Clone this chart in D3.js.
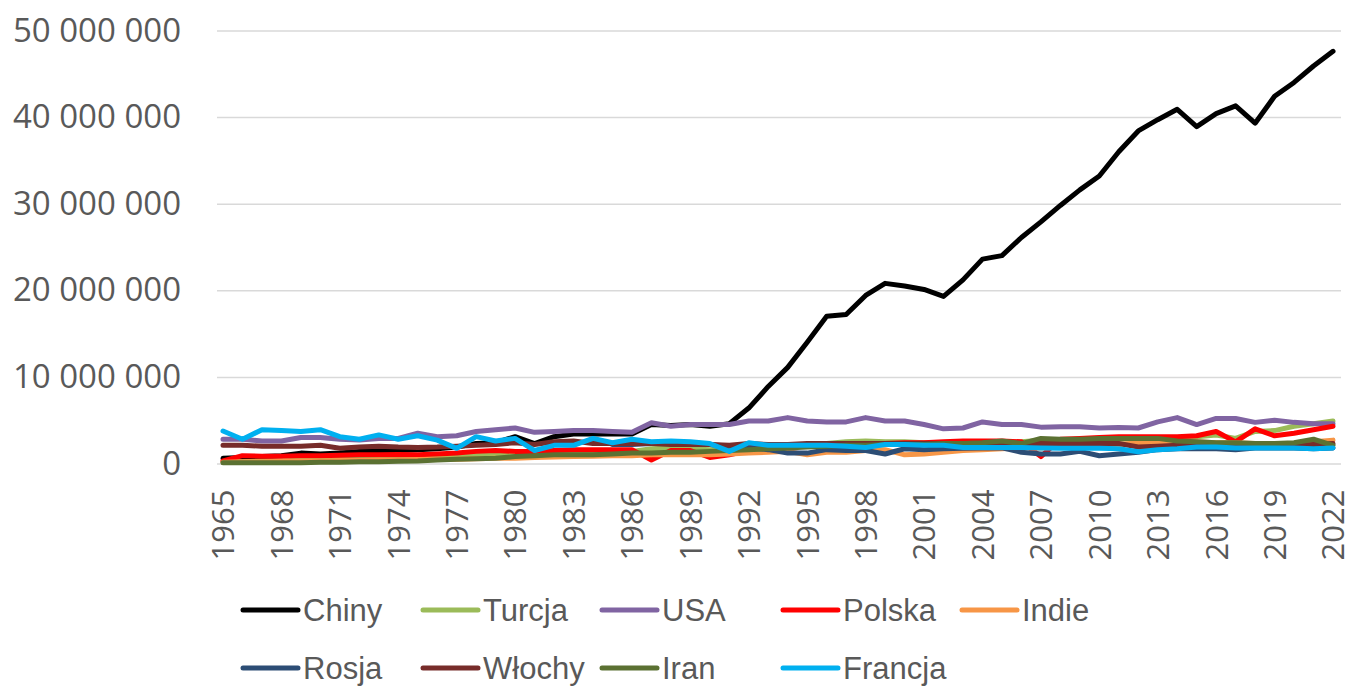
<!DOCTYPE html>
<html>
<head>
<meta charset="utf-8">
<script src="https://cdn.jsdelivr.net/npm/d3@7"></script>
<style>
  body { margin: 0; background: #fff; }
  svg { display: block; }
</style>
</head>
<body>
<svg width="1349" height="689"></svg>
<script>
// years on the category axis
const years = [1965, 1966, 1967, 1968, 1969, 1970, 1971, 1972, 1973, 1974,
  1975, 1976, 1977, 1978, 1979, 1980, 1981, 1982, 1983, 1984,
  1985, 1986, 1987, 1988, 1989, 1990, 1991, 1992, 1993, 1994,
  1995, 1996, 1997, 1998, 1999, 2000, 2001, 2002, 2003, 2004,
  2005, 2006, 2007, 2008, 2009, 2010, 2011, 2012, 2013, 2014,
  2015, 2016, 2017, 2018, 2019, 2020, 2021, 2022];

// values in millions
const chiny = [0.6, 0.7, 0.8, 0.9, 1.2, 1.1, 1.2, 1.4, 1.5, 1.5,
  1.6, 1.7, 1.9, 2.3, 2.4, 3.1, 2.3, 3.1, 3.4, 3.4,
  3.4, 3.4, 4.5, 4.4, 4.5, 4.3, 4.6, 6.4, 8.9, 11.1,
  14.0, 17.0, 17.2, 19.4, 20.8, 20.5, 20.1, 19.3, 21.2, 23.6,
  24.0, 26.1, 27.9, 29.8, 31.6, 33.2, 36.0, 38.4, 39.7, 40.9,
  38.9, 40.4, 41.3, 39.3, 42.4, 44.0, 45.9, 47.6];
const turcja = [0.2, 0.2, 0.3, 0.3, 0.4, 0.4, 0.5, 0.5, 0.6, 0.6,
  0.7, 0.8, 0.9, 1.0, 1.0, 1.1, 1.2, 1.3, 1.5, 1.5,
  1.5, 1.4, 1.7, 1.8, 1.7, 1.6, 1.7, 2.0, 1.9, 1.9,
  2.1, 2.3, 2.5, 2.6, 2.5, 2.5, 2.4, 2.4, 2.4, 2.4,
  2.4, 2.5, 2.7, 2.7, 2.8, 2.8, 2.8, 2.9, 2.9, 2.8,
  3.1, 3.3, 2.9, 3.7, 3.8, 4.3, 4.6, 4.9];
const usa = [2.8, 2.8, 2.6, 2.6, 3.0, 3.0, 2.8, 2.7, 2.9, 2.9,
  3.5, 3.1, 3.2, 3.7, 3.9, 4.1, 3.6, 3.7, 3.8, 3.8,
  3.7, 3.6, 4.7, 4.3, 4.5, 4.5, 4.5, 4.9, 4.9, 5.3,
  4.9, 4.8, 4.8, 5.3, 4.9, 4.9, 4.5, 4.0, 4.1, 4.8,
  4.5, 4.5, 4.2, 4.25, 4.25, 4.1, 4.15, 4.1, 4.8, 5.3,
  4.5, 5.2, 5.2, 4.75, 5.0, 4.75, 4.6, 4.6];
const polska = [0.3, 0.9, 0.85, 0.85, 0.9, 0.9, 0.95, 1.0, 1.0, 1.05,
  1.0, 1.1, 1.2, 1.4, 1.5, 1.4, 1.4, 1.5, 1.6, 1.6,
  1.6, 1.6, 0.4, 1.5, 1.5, 0.7, 1.0, 1.5, 1.8, 1.9,
  2.0, 2.1, 2.2, 2.3, 2.3, 2.4, 2.4, 2.5, 2.6, 2.6,
  2.6, 2.5, 0.8, 2.8, 2.9, 3.0, 3.1, 3.1, 3.1, 3.1,
  3.2, 3.7, 2.5, 4.0, 3.2, 3.5, 3.9, 4.3];
const indie = [0.15, 0.2, 0.2, 0.25, 0.3, 0.3, 0.35, 0.35, 0.4, 0.4,
  0.45, 0.5, 0.5, 0.55, 0.6, 0.6, 0.7, 0.75, 0.8, 0.85,
  0.9, 0.9, 1.0, 1.0, 1.0, 1.0, 1.1, 1.2, 1.3, 1.4,
  1.0, 1.3, 1.3, 1.5, 1.6, 1.0, 1.1, 1.3, 1.5, 1.6,
  1.7, 1.8, 1.8, 1.9, 2.0, 2.1, 2.2, 2.4, 2.4, 2.5,
  2.5, 2.4, 2.4, 2.3, 2.3, 2.2, 2.5, 2.7];
const rosja = [null, null, null, null, null, null, null, null, null, null,
  null, null, null, null, null, null, null, null, null, null,
  2.2, 2.2, 2.3, 2.3, 2.2, 2.2, 2.0, 1.8, 1.6, 1.2,
  1.2, 1.6, 1.5, 1.5, 1.1, 1.7, 1.6, 1.7, 1.75, 1.8,
  1.8, 1.3, 1.1, 1.1, 1.4, 0.9, 1.1, 1.3, 1.6, 1.7,
  1.7, 1.7, 1.6, 1.8, 1.8, 1.8, 1.7, 1.8];
const wlochy = [2.1, 2.1, 2.0, 2.0, 2.0, 2.1, 1.75, 1.9, 2.0, 1.9,
  1.85, 1.9, 2.0, 2.1, 2.2, 2.4, 2.2, 2.5, 2.6, 2.3,
  2.3, 2.3, 2.3, 2.2, 2.2, 2.2, 2.1, 2.3, 2.2, 2.2,
  2.3, 2.3, 2.3, 2.3, 2.3, 2.3, 2.3, 2.3, 2.3, 2.3,
  2.3, 2.3, 2.3, 2.3, 2.3, 2.3, 2.3, 1.9, 2.0, 2.1,
  2.2, 2.2, 2.1, 2.2, 2.2, 2.1, 2.2, 2.3];
const iran = [0.1, 0.1, 0.1, 0.1, 0.1, 0.15, 0.15, 0.2, 0.2, 0.25,
  0.3, 0.4, 0.5, 0.55, 0.6, 0.8, 0.9, 1.0, 1.0, 1.0,
  1.1, 1.2, 1.2, 1.3, 1.3, 1.4, 1.5, 1.6, 1.7, 1.8,
  1.9, 2.0, 2.1, 2.1, 2.2, 2.2, 2.2, 2.3, 2.3, 2.4,
  2.6, 2.3, 2.9, 2.8, 2.8, 2.9, 2.9, 2.9, 2.9, 2.6,
  2.5, 2.4, 2.4, 2.3, 2.3, 2.4, 2.8, 2.1];
const francja = [3.75, 2.8, 3.9, 3.8, 3.7, 3.9, 3.1, 2.8, 3.3, 2.8,
  3.2, 2.7, 1.75, 3.1, 2.6, 2.9, 1.5, 2.1, 2.1, 2.9,
  2.4, 2.8, 2.5, 2.6, 2.5, 2.3, 1.4, 2.4, 2.1, 2.1,
  2.1, 2.1, 2.0, 1.85, 2.2, 2.2, 2.1, 2.1, 1.85, 1.85,
  1.85, 1.85, 1.8, 1.75, 1.75, 1.75, 1.7, 1.35, 1.6, 1.7,
  1.9, 1.9, 1.8, 1.8, 1.8, 1.8, 1.7, 1.8];

const names = ['Chiny', 'Turcja', 'USA', 'Polska', 'Indie', 'Rosja', 'Włochy', 'Iran', 'Francja'];
const colors = ['#000000', '#9BBB59', '#8064A2', '#FF0000', '#F79646', '#2C4D75', '#772C2A', '#5B7132', '#00B0F0'];
const yTicks = [0, 10, 20, 30, 40, 50];

let series = [chiny, turcja, usa, polska, indie, rosja, wlochy, iran, francja]
  .map((vals, i) => ({ name: names[i], color: colors[i], values: vals }));

const svg = d3.select('svg');
const x = d3.scalePoint().domain(years).range([223, 1333]);
const y = d3.scaleLinear().domain([0, 50]).range([463.5, 30.5]);

const pl = d3.formatLocale({ decimal: ',', thousands: '\u00a0', grouping: [3], currency: ['', ''] });
const fmt = pl.format(',');

// gridlines + y labels
const yAxis = svg.append('g')
  .attr('transform', 'translate(217,0)')
  .call(d3.axisLeft(y).tickValues(yTicks).tickSize(-1124).tickPadding(36)
    .tickFormat((d) => fmt(d * 1e6)));
yAxis.select('.domain').remove();
yAxis.selectAll('line').attr('stroke', '#D9D9D9').attr('stroke-width', 1.5);
yAxis.selectAll('text')
  .attr('fill', '#595959')
  .style('font-family', '"Open Sans", sans-serif')
  .style('font-size', '33px');

// x labels, every 3rd year, rotated
const xAxis = svg.append('g')
  .attr('transform', 'translate(0,463.5)')
  .call(d3.axisBottom(x).tickValues(years.filter((d, i) => i % 3 === 0)).tickSize(0).tickPadding(0));
xAxis.select('.domain').remove();
xAxis.selectAll('text')
  .attr('transform', 'rotate(-90)')
  .attr('text-anchor', 'end')
  .attr('x', -26)
  .attr('y', 0)
  .attr('dy', '0.35em')
  .attr('fill', '#595959')
  .style('font-family', '"Open Sans", sans-serif')
  .style('font-size', '31px');

const line = d3.line()
  .defined((d) => d != null)
  .x((d, i) => x(years[i]))
  .y((d) => y(d));

series.forEach((s) => {
  svg.append('path')
    .attr('d', line(s.values))
    .attr('fill', 'none')
    .attr('stroke', s.color)
    .attr('stroke-width', 5)
    .attr('stroke-linejoin', 'round')
    .attr('stroke-linecap', 'round');
});

// legend, two rows
const legendX = [243, 423, 602, 783, 962];
const legendY = [610, 668];
series.forEach((s, i) => {
  const g = svg.append('g')
    .attr('transform', `translate(${legendX[i % 5]},${legendY[Math.floor(i / 5)]})`);
  g.append('line')
    .attr('x1', 0).attr('x2', 55)
    .attr('stroke', s.color)
    .attr('stroke-width', 5)
    .attr('stroke-linecap', 'round');
  g.append('text')
    .attr('x', 60)
    .attr('dy', '0.35em')
    .attr('fill', '#595959')
    .style('font-family', '"Liberation Sans", Arial, sans-serif')
    .style('font-size', '31px')
    .text(s.name);
});
</script>
</body>
</html>
